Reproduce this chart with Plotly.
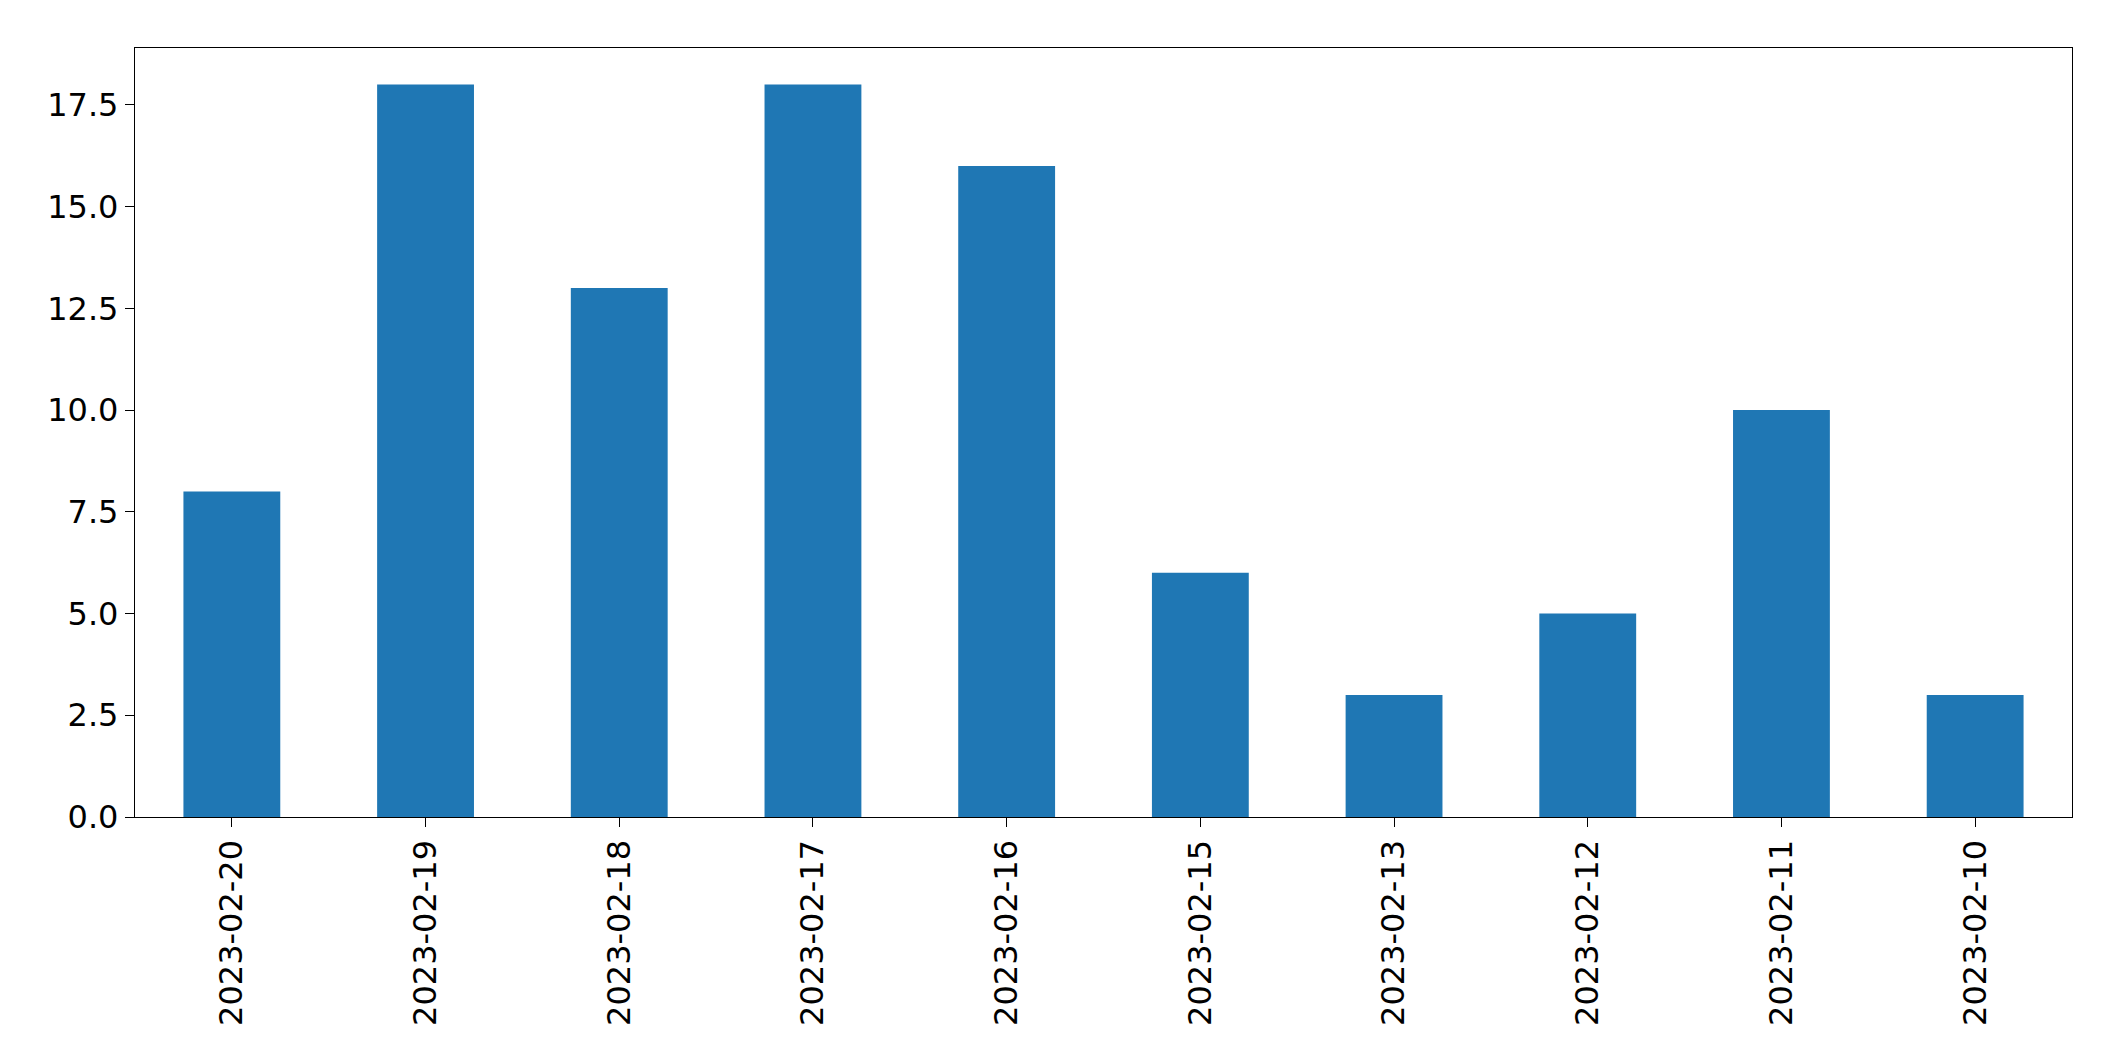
import plotly.graph_objects as go

dates = ["2023-02-20","2023-02-19","2023-02-18","2023-02-17","2023-02-16",
         "2023-02-15","2023-02-13","2023-02-12","2023-02-11","2023-02-10"]
counts = [8, 18, 13, 18, 16, 6, 3, 5, 10, 3]
ytick_vals = [0, 2.5, 5, 7.5, 10, 12.5, 15, 17.5]
ytick_text = ["0.0","2.5","5.0","7.5","10.0","12.5","15.0","17.5"]

fig = go.Figure(go.Bar(x=dates, y=counts, width=0.5, marker=dict(color="#1f77b4", line=dict(width=0))))
fig.update_layout(
    width=2104, height=1061, plot_bgcolor="white", paper_bgcolor="white",
    margin=dict(l=127, r=40, t=40, b=252),
    font=dict(family="DejaVu Sans", size=32, color="black"),
    showlegend=False,
)
fig.update_xaxes(type="category", range=[-0.5, 9.5], tickangle=-90, showline=True, linecolor="black",
                 linewidth=1.3, mirror=True, ticks="outside", ticklen=9, tickcolor="black", showgrid=False)
fig.update_yaxes(range=[0, 18.9], tickvals=ytick_vals, ticktext=ytick_text, showline=True, linecolor="black",
                 linewidth=1.3, mirror=True, ticks="outside", ticklen=9, tickcolor="black", showgrid=False,
                 zeroline=False)
fig.write_html("out.html")
